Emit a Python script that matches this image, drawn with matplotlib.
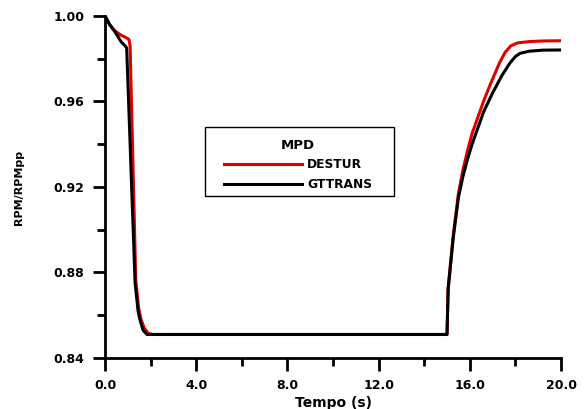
import matplotlib
matplotlib.use("Agg")
from matplotlib import pyplot as plt
from matplotlib.patches import Rectangle
from matplotlib.ticker import MultipleLocator, FormatStrFormatter

# DESTUR series
t_destur = [0.0, 0.1, 0.2, 0.44, 0.7, 0.9, 1.05, 1.1, 1.35, 1.48, 1.58, 1.72, 1.9, 2.1,
            15.0, 15.05, 15.27, 15.5, 15.7, 15.9, 16.1, 16.3, 16.6, 16.9, 17.3, 17.55,
            17.8, 18.1, 18.6, 19.2, 20.0]
v_destur = [1.000, 0.998, 0.996, 0.993, 0.991, 0.990, 0.989, 0.986, 0.876, 0.863, 0.858,
            0.854, 0.8515, 0.851,
            0.851, 0.873, 0.897, 0.917, 0.928, 0.937, 0.945, 0.951, 0.960, 0.968, 0.978,
            0.983, 0.986, 0.9874, 0.988, 0.9883, 0.9884]

# GTTRANS series
t_gttrans = [0.0, 0.1, 0.2, 0.44, 0.7, 0.88, 0.95, 1.32, 1.45, 1.53, 1.67, 1.84, 2.0,
             15.0, 15.05, 15.27, 15.5, 15.7, 15.9, 16.1, 16.3, 16.6, 17.0, 17.4, 17.76,
             18.0, 18.2, 18.6, 19.2, 20.0]
v_gttrans = [1.000, 0.998, 0.996, 0.9925, 0.988, 0.986, 0.985, 0.875, 0.862, 0.858, 0.853,
             0.851, 0.851,
             0.851, 0.872, 0.896, 0.915, 0.925, 0.933, 0.940, 0.946, 0.955, 0.964, 0.972,
             0.978, 0.981, 0.9825, 0.9835, 0.984, 0.9841]

plt.rcParams["font.family"] = ["DejaVu Sans"]
plt.rcParams["font.weight"] = "bold"

fig = plt.figure(figsize=(5.88, 4.09), dpi=100)
ax = fig.add_axes([0.1786, 0.1247, 0.7755, 0.8363])

ax.plot(t_destur, v_destur, color="#e00000", lw=2.2, label="DESTUR")
ax.plot(t_gttrans, v_gttrans, color="black", lw=2.2, label="GTTRANS")

ax.set_xlim(0, 20)
ax.set_ylim(0.84, 1.00)
ax.xaxis.set_major_locator(MultipleLocator(4))
ax.xaxis.set_minor_locator(MultipleLocator(2))
ax.yaxis.set_major_locator(MultipleLocator(0.04))
ax.yaxis.set_minor_locator(MultipleLocator(0.02))
ax.xaxis.set_major_formatter(FormatStrFormatter("%.1f"))
ax.yaxis.set_major_formatter(FormatStrFormatter("%.2f"))

for side in ["top", "right"]:
    ax.spines[side].set_visible(False)
for side in ["left", "bottom"]:
    ax.spines[side].set_linewidth(2)
ax.tick_params(which="major", direction="out", length=9, width=2, labelsize=9, pad=6)
ax.tick_params(which="minor", direction="out", length=6, width=2)
for lbl in ax.get_xticklabels() + ax.get_yticklabels():
    lbl.set_fontweight("bold")

ax.set_xlabel("Tempo (s)", fontsize=10, fontweight="bold", labelpad=3)
ax.set_ylabel("RPM/RPMpp", fontsize=8, fontweight="bold")
ax.yaxis.set_label_coords(-0.178, 0.5)

leg = ax.legend(title="MPD", loc="center", bbox_to_anchor=(0.423, 0.565),
                frameon=False, fontsize=8.8, handlelength=6.4, borderpad=0,
                labelspacing=0.55, handletextpad=0.4)
plt.setp(leg.get_title(), fontweight="bold", fontsize=9.5)
for txt in leg.get_texts():
    txt.set_fontweight("bold")
for line in leg.get_lines():
    line.set_linewidth(2.2)

ax.add_patch(Rectangle((0.219, 0.474), 0.415, 0.201, transform=ax.transAxes,
                       fill=False, edgecolor="black", lw=1, zorder=5))

fig.savefig("out.png", dpi=100)
